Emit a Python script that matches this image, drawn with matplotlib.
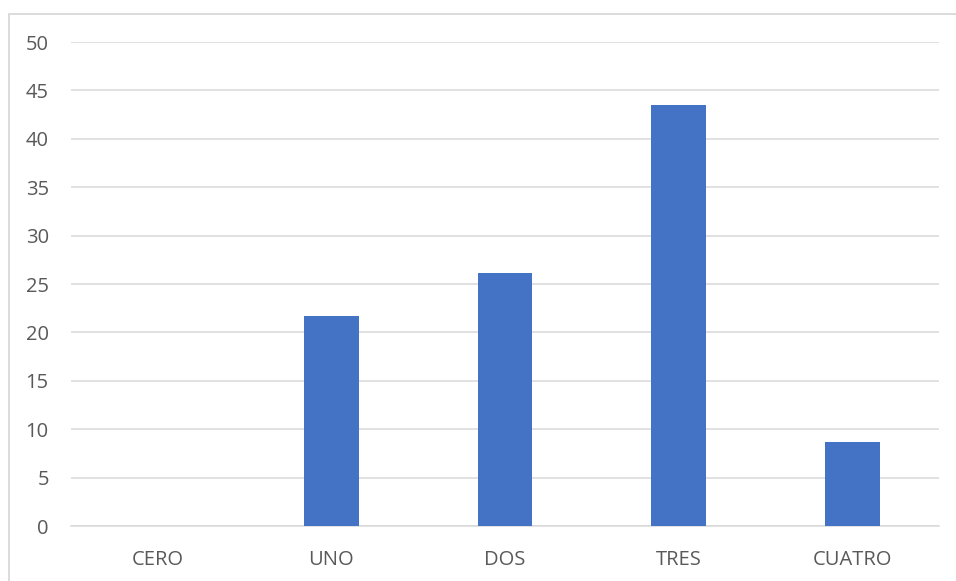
import matplotlib.pyplot as plt
from matplotlib.patches import Rectangle

# data
categorias = ["CERO", "UNO", "DOS", "TRES", "CUATRO"]
valores = [0, 21.74, 26.09, 43.48, 8.70]
yticks = [0, 5, 10, 15, 20, 25, 30, 35, 40, 45, 50]

W, H = 956, 581
fig = plt.figure(figsize=(W / 100, H / 100), dpi=100)
ax = fig.add_axes([71 / W, 1 - 526 / H, (939 - 71) / W, (526 - 42) / H])

x = range(len(categorias))
ax.bar(x, valores, width=0.315, color="#4472C4", zorder=3)

ax.set_xlim(-0.5, len(categorias) - 0.5)
ax.set_ylim(0, 50)
ax.set_yticks(yticks)
ax.set_xticks(list(x))
ax.set_xticklabels(categorias)

for s in ax.spines.values():
    s.set_visible(False)
ax.grid(axis="y", color="#D9D9D9", linewidth=1.1, zorder=0)
ax.axhline(0, color="#D9D9D9", linewidth=1.1, zorder=2, clip_on=False)
ax.tick_params(axis="both", length=0, labelsize=14.5, labelcolor="#595959")
ax.tick_params(axis="y", pad=16)
ax.tick_params(axis="x", pad=17)
for t in ax.get_xticklabels() + ax.get_yticklabels():
    t.set_fontfamily("Open Sans")

# chart border
fig.patches.append(Rectangle((8.5 / W, -0.1), 1.1, 1 - 13.5 / H + 0.1,
                             transform=fig.transFigure, fill=False,
                             edgecolor="#D9D9D9", linewidth=1.3))

fig.savefig("out.png", dpi=100)
